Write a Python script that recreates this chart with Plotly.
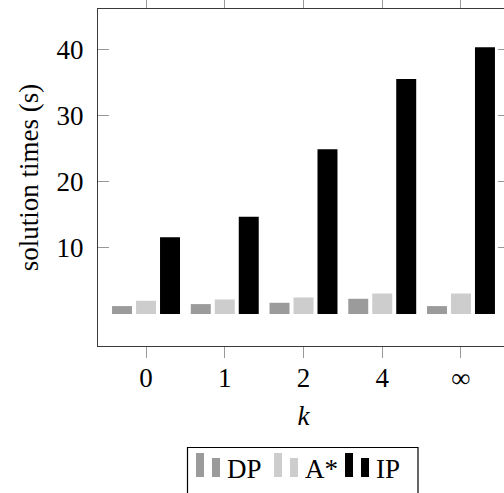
import plotly.graph_objects as go

# ---- data ----
categories = ["0", "1", "2", "4", "∞"]
dp_times = [1.2, 1.5, 1.7, 2.3, 1.2]
astar_times = [2.0, 2.2, 2.5, 3.1, 3.1]
ip_times = [11.6, 14.7, 24.9, 35.5, 40.3]
series_names = ["DP", "A*", "IP"]
y_tick_vals = [10, 20, 30, 40]

# ---- style ----
FONT = "Liberation Serif"
FS = 27
colors = ["#9b9b9b", "#cdcdcd", "#000000"]

W, H = 510, 493
L, R, T, B = 98, 1, 9, 147
PW, PH = W - L - R, H - T - B


def px_x(p):  # page pixel -> paper
    return (p - L) / PW


def px_y(p):
    return (H - B - p) / PH


fig = go.Figure()
for name, vals, col in zip(series_names, [dp_times, astar_times, ip_times], colors):
    fig.add_trace(go.Bar(x=categories, y=vals, name=name,
                         marker=dict(color=col, line=dict(width=0)),
                         showlegend=False))

fig.update_layout(
    width=W, height=H,
    margin=dict(l=L, r=R, t=T, b=B, pad=0, autoexpand=False),
    paper_bgcolor="white", plot_bgcolor="white",
    font=dict(family=FONT, size=FS, color="black"),
    barmode="group", bargap=0.086, bargroupgap=0.167,
    xaxis=dict(
        type="category", range=[-0.61, 4.61],
        showline=True, linecolor="#3a3a3a", linewidth=1.2, mirror="ticks",
        ticks="outside", ticklen=11, tickcolor="#999999", tickwidth=1,
        showgrid=False, zeroline=False,
        tickfont=dict(family=FONT, size=FS),
        ticklabelstandoff=-4,
        title=dict(text="<i>k</i>", font=dict(family=FONT, size=FS), standoff=14),
    ),
    yaxis=dict(
        range=[-4.83, 46.07], tickvals=y_tick_vals,
        showline=True, linecolor="#3a3a3a", linewidth=1.2, mirror="ticks",
        ticks="inside", ticklen=11, tickcolor="#999999", tickwidth=1,
        showgrid=False, zeroline=False,
        tickfont=dict(family=FONT, size=FS),
        ticklabelstandoff=8,
        title=dict(text="solution times (s)", font=dict(family=FONT, size=FS), standoff=10),
    ),
)

# ---- manual legend (pgfplots style) ----
shapes = [dict(type="rect", xref="paper", yref="paper",
               x0=px_x(187.5), x1=px_x(418), y0=px_y(520), y1=px_y(447.5),
               line=dict(color="black", width=1.2), fillcolor="rgba(0,0,0,0)")]
annotations = []
entry_x = [196, 274, 345]
for name, col, ex in zip(series_names, colors, entry_x):
    shapes.append(dict(type="rect", xref="paper", yref="paper",
                       x0=px_x(ex), x1=px_x(ex + 8), y0=px_y(477), y1=px_y(453),
                       line=dict(width=0), fillcolor=col))
    shapes.append(dict(type="rect", xref="paper", yref="paper",
                       x0=px_x(ex + 16), x1=px_x(ex + 24), y0=px_y(477), y1=px_y(458),
                       line=dict(width=0), fillcolor=col))
    annotations.append(dict(text=name, xref="paper", yref="paper",
                            x=px_x(ex + 29), y=px_y(469), xanchor="left", yanchor="middle",
                            showarrow=False, font=dict(family=FONT, size=FS, color="black")))
fig.update_layout(shapes=shapes, annotations=annotations)

fig.write_html(
    "out.html",
    config={"displayModeBar": False},
    post_script="document.body.style.margin='0';document.body.style.overflow='hidden';",
)
